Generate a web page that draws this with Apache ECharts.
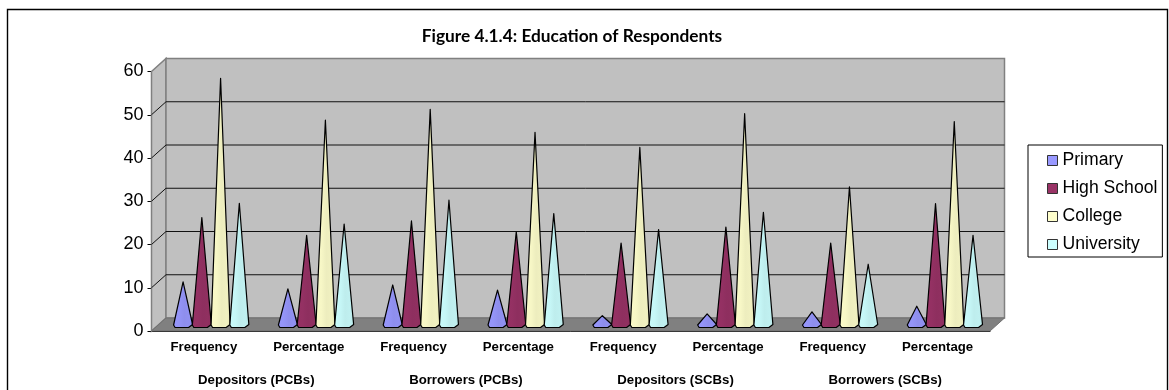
<!DOCTYPE html>
<html>
<head>
<meta charset="utf-8">
<title>Figure 4.1.4</title>
<script src="https://cdn.jsdelivr.net/npm/echarts@6/dist/echarts.min.js"></script>
<style>
    html, body { margin: 0; padding: 0; background: #fff; }
    #container { width: 1169px; height: 390px; }
</style>
</head>
<body>
<div id="container"></div>
<script>
const measures = ['Frequency', 'Percentage', 'Frequency', 'Percentage', 'Frequency', 'Percentage', 'Frequency', 'Percentage'];
const groups = ['Depositors (PCBs)', 'Borrowers (PCBs)', 'Depositors (SCBs)', 'Borrowers (SCBs)'];
const yTicks = [0, 10, 20, 30, 40, 50, 60];

// values
const primary = [10.3, 8.7, 9.6, 8.4, 2.5, 2.9, 3.4, 4.7];
const highSchool = [25.2, 21.1, 24.4, 21.9, 19.3, 23.0, 19.3, 28.4];
const college = [57.4, 47.7, 50.2, 44.9, 41.4, 49.2, 32.3, 47.4];
const university = [28.5, 23.7, 29.2, 26.1, 22.4, 26.4, 14.4, 21.1];

const seriesNames = ['Primary', 'High School', 'College', 'University'];
const seriesValues = [primary, highSchool, college, university];
const colors = ['#9999FF', '#993366', '#FFFFCC', '#CCFFFF'];

// fake 3D: how far the back wall sits from the front of the box
const depthX = 14.5;
const depthY = 13;
// cones stand half way into the box
const coneX = 7.3;
const coneY = 4.5;
const conePitch = 18.75;
const coneHalf = 9.5;

function shade(color, amount) {
    return echarts.color.lerp(amount, [color, '#000000']);
}

function renderCone(seriesIndex, params, api) {
    const point = api.coord([api.value(0), api.value(1)]);
    const zero = api.coord([api.value(0), 0]);
    const cx = zero[0] + coneX + (seriesIndex - 1.5) * conePitch;
    const by = zero[1] - coneY + 1;
    const color = api.visual('color');
    const fill = new echarts.graphic.LinearGradient(0, 0, 1, 0, [
        { offset: 0, color: shade(color, 0.02) },
        { offset: 0.3, color: shade(color, 0.03) },
        { offset: 0.55, color: shade(color, 0.07) },
        { offset: 0.8, color: shade(color, 0.06) },
        { offset: 1, color: shade(color, 0.1) }
    ]);
    return {
        type: 'polygon',
        shape: {
            points: [
                [cx, point[1] - coneY],
                [cx + coneHalf, by - 3],
                [cx + 5.5, by],
                [cx - 8, by],
                [cx - coneHalf, by - 2.5]
            ]
        },
        style: { fill: fill, stroke: '#000', lineWidth: 1.2, lineJoin: 'round' }
    };
}

function renderBox(params, api) {
    const box = params.coordSys;
    const y = api.coord([0, api.value(0)])[1];
    const left = box.x;
    const right = box.x + box.width;
    const bottom = box.y + box.height;
    const children = [];

    if (params.dataIndex === 0) {
        const shell = { stroke: '#808080', lineWidth: 1.5 };
        // side wall, back wall, floor
        children.push({
            type: 'polygon',
            shape: { points: [[left, box.y], [left + depthX, box.y - depthY], [left + depthX, bottom - depthY], [left, bottom]] },
            style: Object.assign({ fill: '#C0C0C0' }, shell)
        });
        children.push({
            type: 'polygon',
            shape: { points: [[left + depthX, box.y - depthY], [right + depthX, box.y - depthY], [right + depthX, bottom - depthY], [left + depthX, bottom - depthY]] },
            style: Object.assign({ fill: '#C0C0C0' }, shell)
        });
        children.push({
            type: 'polygon',
            shape: { points: [[left, bottom], [left + depthX, bottom - depthY], [right + depthX, bottom - depthY], [right, bottom]] },
            style: { fill: '#808080', stroke: '#707070', lineWidth: 1 }
        });
    } else if (api.value(0) !== 60) {
        children.push({
            type: 'polyline',
            shape: { points: [[left, y], [left + depthX, y - depthY], [right + depthX, y - depthY]] },
            style: { stroke: '#111', lineWidth: 1, fill: null }
        });
    }
    return { type: 'group', children: children };
}

function draw() {
    const myChart = echarts.init(document.getElementById('container'), null, { renderer: 'canvas' });

    const cones = seriesNames.map(function (name, s) {
        return {
            name: name,
            type: 'custom',
            xAxisIndex: 0,
            yAxisIndex: 0,
            z: 5,
            itemStyle: { color: colors[s] },
            renderItem: function (params, api) { return renderCone(s, params, api); },
            encode: { x: 0, y: 1 },
            data: seriesValues[s].map(function (v, i) { return [i, v]; })
        };
    });

    const option = {
        backgroundColor: '#fff',
        animation: false,
        textStyle: { fontFamily: 'Liberation Sans' },
        title: {
            text: 'Figure 4.1.4: Education of Respondents',
            left: 567,
            top: 23,
            textAlign: 'center',
            textStyle: { fontFamily: 'Lato', fontWeight: 'bold', fontSize: 17.3, color: '#000' }
        },
        // the page border is cut off at the bottom in the original
        graphic: [{
            type: 'polyline',
            shape: { points: [[7.5, 390], [7.5, 9.5], [1167.5, 9.5], [1167.5, 390]] },
            style: { stroke: '#000', lineWidth: 1.4, fill: null }
        }],
        legend: {
            data: seriesNames,
            orient: 'vertical',
            left: 1028,
            top: 145,
            padding: [6.5, 5, 3.5, 19],
            itemGap: 10,
            itemWidth: 10,
            itemHeight: 10,
            icon: 'rect',
            borderColor: '#000',
            borderWidth: 1,
            backgroundColor: '#fff',
            itemStyle: { borderColor: '#333', borderWidth: 1 },
            textStyle: { fontFamily: 'Liberation Sans', fontSize: 17.6, color: '#000' }
        },
        grid: { left: 151.5, right: 179, top: 71.5, bottom: 59, containLabel: false },
        xAxis: [
            {
                type: 'category',
                data: measures,
                position: 'bottom',
                axisTick: { show: false },
                axisLine: { show: true, lineStyle: { color: '#000', width: 1 } },
                axisLabel: { interval: 0, margin: 10, fontFamily: 'Liberation Sans', fontWeight: 'bold', fontSize: 13.2, color: '#000' }
            },
            {
                type: 'category',
                data: groups,
                position: 'bottom',
                offset: 43,
                axisTick: { show: false },
                axisLine: { show: false },
                axisLabel: { interval: 0, margin: 0, fontFamily: 'Liberation Sans', fontWeight: 'bold', fontSize: 13.2, color: '#000' }
            }
        ],
        yAxis: {
            type: 'value',
            min: 0,
            max: 60,
            interval: 10,
            axisLine: { show: true, lineStyle: { color: '#000', width: 1 } },
            axisTick: { show: true, length: 4, lineStyle: { color: '#000' } },
            splitLine: { show: false },
            axisLabel: { margin: 8, fontFamily: 'Liberation Sans', fontSize: 18, color: '#000' }
        },
        series: [{
            name: 'box',
            type: 'custom',
            silent: true,
            z: 1,
            renderItem: renderBox,
            encode: { y: 0 },
            data: yTicks.map(function (t) { return [t]; })
        }].concat(cones)
    };

    myChart.setOption(option);
    window.addEventListener('resize', myChart.resize);
}

draw();
</script>
</body>
</html>
